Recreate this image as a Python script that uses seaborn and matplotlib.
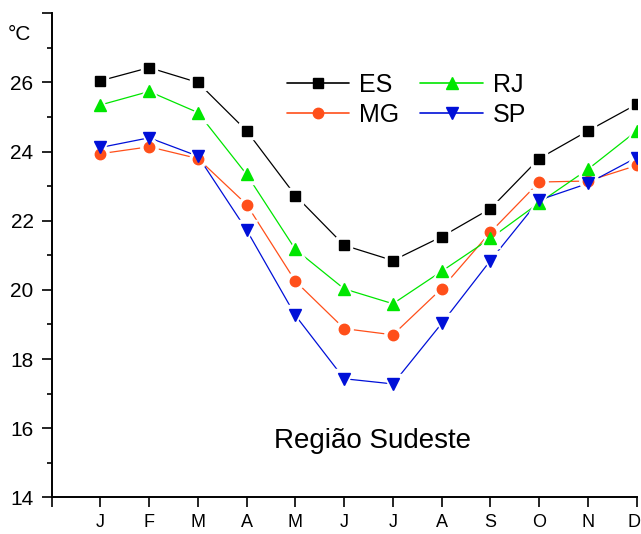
import seaborn as sns
import matplotlib.pyplot as plt
import matplotlib.transforms as mtrans
import pandas as pd
from matplotlib.lines import Line2D

# Monthly mean temperature, Southeast region of Brazil
meses = ['J', 'F', 'M', 'A', 'M', 'J', 'J', 'A', 'S', 'O', 'N', 'D']
es = [26.05, 26.43, 26.0, 24.6, 22.73, 21.29, 20.85, 21.54, 22.35, 23.8, 24.6, 25.37]
mg = [23.94, 24.14, 23.8, 22.47, 20.25, 18.88, 18.7, 20.04, 21.67, 23.12, 23.15, 23.6]
rj = [25.35, 25.74, 25.13, 23.34, 21.17, 20.03, 19.6, 20.54, 21.49, 22.52, 23.49, 24.6]
sp = [24.12, 24.4, 23.87, 21.73, 19.26, 17.43, 17.28, 19.03, 20.85, 22.6, 23.08, 23.83]

estados = ['ES', 'MG', 'RJ', 'SP']
cores = {'ES': '#000000', 'MG': '#ff4f1a', 'RJ': '#00e600', 'SP': '#0010d8'}
marcadores = {'ES': 's', 'MG': 'o', 'RJ': '^', 'SP': 'v'}
tamanhos = {'ES': 7, 'MG': 7.5, 'RJ': 9, 'SP': 9}

frames = []
for nome, vals in zip(estados, [es, mg, rj, sp]):
    frames.append(pd.DataFrame({'pos': range(1, 13), 'temp': vals, 'estado': nome}))
df = pd.concat(frames, ignore_index=True)

sns.set_style('ticks', {'axes.edgecolor': 'black', 'text.color': 'black',
                        'xtick.color': 'black', 'ytick.color': 'black'})
plt.rcParams['font.family'] = ['Liberation Sans', 'DejaVu Sans']

fig = plt.figure(figsize=(6.41, 5.34), dpi=100)
ax = fig.add_axes([0.0806, 0.0687, 0.9127, 0.9063])

sns.lineplot(data=df, x='pos', y='temp', hue='estado', palette=cores,
             lw=0.9, legend=False, ax=ax, zorder=2)

# white halos so the lines stop short of the markers
for nome in estados:
    sub = df[df['estado'] == nome]
    ax.plot(sub['pos'], sub['temp'], ls='none', marker=marcadores[nome],
            ms=tamanhos[nome] + 5, color='white', mec='white', zorder=3)
for nome in estados:
    sub = df[df['estado'] == nome]
    ax.plot(sub['pos'], sub['temp'], ls='none', marker=marcadores[nome],
            ms=tamanhos[nome], color=cores[nome], mec=cores[nome], zorder=4)

ax.set_xlim(0, 12)
ax.set_ylim(14, 28)
ax.set_xticks(range(0, 13))
ax.set_xticklabels([''] + meses, fontsize=13)
ax.set_yticks(range(14, 29, 2))
ax.set_yticklabels([str(v) for v in range(14, 27, 2)] + [''], fontsize=15)
ax.set_yticks(range(15, 28, 2), minor=True)
ax.tick_params(axis='x', direction='out', length=7, width=1.2, pad=5)
ax.tick_params(axis='y', which='major', direction='out', length=7, width=1.2, pad=6)
ax.tick_params(axis='y', which='minor', direction='out', length=3.5, width=1.2)
ax.set_xlabel('')
ax.set_ylabel('')
sns.despine(ax=ax)
for s in ['left', 'bottom']:
    ax.spines[s].set_linewidth(1.4)

# keep the last month label inside the figure
ultimo = ax.get_xticklabels()[-1]
ultimo.set_transform(ultimo.get_transform() +
                     mtrans.ScaledTranslation(-3 / 100, 0, fig.dpi_scale_trans))

fig.text(0.012, 1 - 35 / 534, '°C', fontsize=15, va='center', ha='left')
fig.text(373 / 641, 1 - 441 / 534, 'Região Sudeste', fontsize=20,
         ha='center', va='center')

handles = [Line2D([], [], color=cores[n], marker=marcadores[n], ms=tamanhos[n], lw=1.2)
           for n in ['ES', 'MG', 'RJ', 'SP']]
fig.legend(handles, ['ES', 'MG', 'RJ', 'SP'], ncol=2, frameon=False, fontsize=18,
           loc='upper left', bbox_to_anchor=(274 / 641, 1 - 60 / 534),
           borderpad=0, handlelength=2.5, handletextpad=0.4, columnspacing=0.85,
           labelspacing=0.25)

fig.savefig('out.png', dpi=100)
